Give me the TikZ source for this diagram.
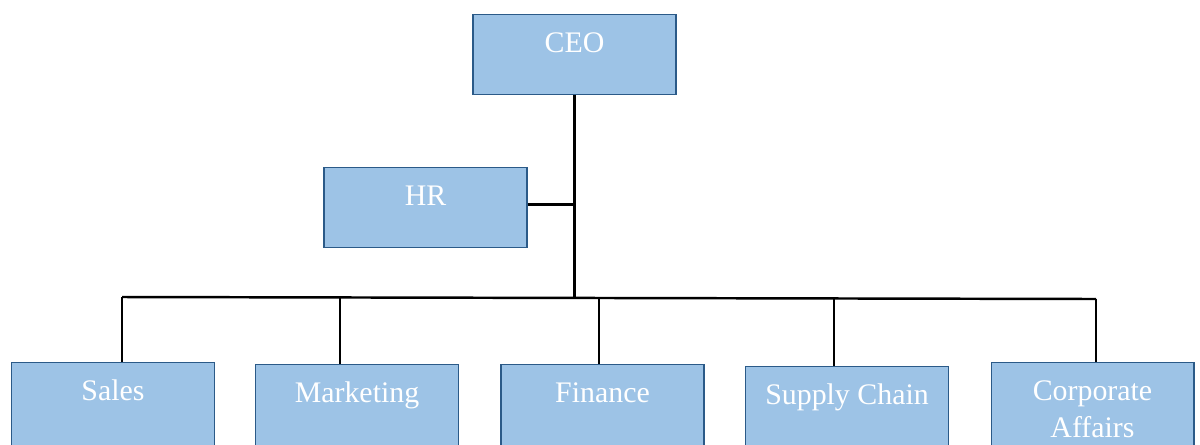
\documentclass[tikz,border=0pt]{standalone}
\usepackage{fontspec}
\setmainfont{Liberation Serif}
\usetikzlibrary{calc}
\definecolor{boxfill}{HTML}{9DC3E6}
\definecolor{boxline}{HTML}{2B5A88}
\tikzset{
	unit/.style={rectangle, draw=boxline, fill=boxfill, line width=0.6pt,
		minimum width=4.06cm, inner xsep=0pt, inner ysep=0pt,
		text=white, align=center, anchor=north,
		font=\fontsize{17}{21}\selectfont,
		text height=0.76cm, text depth=0.84cm},
	lowunit/.style={unit, text depth=1.4cm},
	link/.style={line width=1.4pt, black}
}

\begin{document}
\begin{tikzpicture}[x=0.02cm, y=-0.02cm]
			%%%%% START %%%%%
			
			\clip (0, 0) rectangle (1200, 444);
			
			\node[unit] (ceo) at (574.5, 14) {CEO};
			\node[unit] (hr) at (425.5, 167) {HR};
			
			\node[lowunit] (sales) at (113, 362) {Sales};
			\node[lowunit] (marketing) at (357, 364) {Marketing};
			\node[lowunit] (finance) at (602.5, 364) {Finance};
			\node[lowunit] (supply) at (847, 366) {Supply Chain};
			% two lines: baseline sits on the second one
			\node[lowunit, text height=1.5cm, text depth=0.7cm] (affairs) at (1092.5, 362) {Corporate\\Affairs};
			
			% bus under the trunk
			\coordinate (busL) at (122, 297);
			\coordinate (busR) at (1096, 299);
			\coordinate (dropM) at (340, 297.5);
			\coordinate (dropF) at (599, 298);
			\coordinate (dropS) at (834, 298.5);
			\coordinate (hrtap) at ($(hr.east)+(0, -3)$);
			
			\draw[link] (ceo.south) -- (ceo.south |- dropF);
			\draw[link] (hrtap) -- (hrtap -| ceo.south);
			\draw[link] (busL) -- (busR);
			
			\draw[link] (busL) -- (busL |- sales.north);
			\draw[link] (dropM) -- (dropM |- marketing.north);
			\draw[link] (dropF) -- (dropF |- finance.north);
			\draw[link] (dropS) -- (dropS |- supply.north);
			\draw[link] (busR) -- (busR |- affairs.north);
			
			%%%%% END %%%%%
\end{tikzpicture}
\end{document}
